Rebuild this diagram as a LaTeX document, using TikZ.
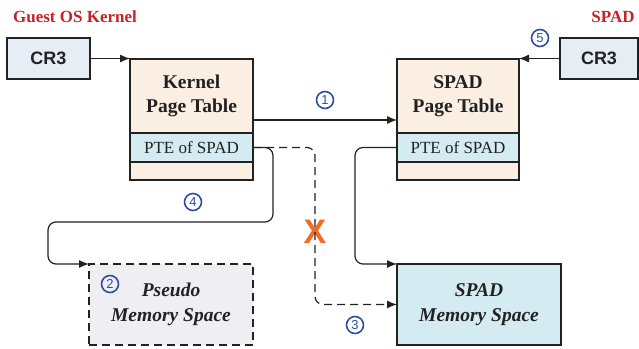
\documentclass[tikz,border=0pt]{standalone}
\usepackage{fontspec}
\setmainfont{Liberation Serif}
\setsansfont{Liberation Sans}
\usetikzlibrary{arrows.meta,calc,positioning}
\definecolor{ptfill}{HTML}{FBEEE3}
\definecolor{ptefill}{HTML}{D3EBF1}
\definecolor{regfill}{HTML}{E7EDF5}
\definecolor{pseudofill}{HTML}{EFEEF3}
\definecolor{lblred}{HTML}{C62228}
\definecolor{numblue}{HTML}{2E4FA8}
\definecolor{xorange}{HTML}{F26B21}
\definecolor{ink}{HTML}{222222}

\begin{document}
\begin{tikzpicture}[
    x=1pt, y=-1pt,
    >={Latex[length=10pt,width=8pt]},
    line width=1.2pt,
    oslabel/.style={
      text=lblred,
      font=\fontsize{17}{17}\selectfont\bfseries,
    },
    regbox/.style={
      draw=ink,
      fill=regfill,
      minimum width=83pt,
      minimum height=41pt,
      outer sep=0pt,
      text=ink,
      font=\sffamily\bfseries\fontsize{18}{18}\selectfont,
    },
    ptbox/.style={
      draw=ink,
      fill=ptfill,
      minimum width=123pt,
      outer sep=0pt,
      inner sep=0pt,
      align=center,
      text=ink,
      font=\bfseries\fontsize{19.5}{24}\selectfont,
    },
    ptebox/.style={
      ptbox,
      fill=ptefill,
      minimum height=29pt,
      font=\fontsize{17}{17}\selectfont,
    },
    membox/.style={
      draw=ink,
      fill=ptefill,
      minimum width=164pt,
      minimum height=81pt,
      outer sep=0pt,
      align=center,
      text=ink,
      font=\bfseries\itshape\fontsize{19.5}{25}\selectfont,
    },
    stepnum/.style={
      circle,
      draw=numblue,
      line width=1.6pt,
      text=numblue,
      minimum size=17pt,
      inner sep=0pt,
      font=\sffamily\fontsize{13}{13}\selectfont,
    },
    link/.style={->, draw=ink, rounded corners=8pt},
  ]
    \useasboundingbox (0,0) rectangle (639,348);

    % labels and CR3 registers
    \node[oslabel] (gosl) at (75,17) {Guest OS Kernel};
    \node[oslabel] (spadl) at (613,17) {SPAD};
    \node[regbox] (kcr3) at (48.5,58.5) {CR3};
    \node[regbox, minimum width=78pt] (scr3) at (599,58.5) {CR3};

    % page tables
    \node[ptbox, minimum height=74pt] (ktab) at (191.5,96) {Kernel\\Page Table};
    \node[ptebox, below=0pt of ktab] (kpte) {PTE of SPAD};
    \node[ptbox, minimum height=18pt, below=0pt of kpte] (kend) {};

    \node[ptbox, minimum width=122pt, minimum height=74pt] (stab) at (458,96) {SPAD\\Page Table};
    \node[ptebox, minimum width=122pt, below=0pt of stab] (spte) {PTE of SPAD};
    \node[ptbox, minimum width=122pt, minimum height=18pt, below=0pt of spte] (send) {};

    % memory spaces
    \node[membox, fill=pseudofill, dash pattern=on 8pt off 5pt] (pseudo) at (171,304.5) {Pseudo\\Memory Space};
    \node[membox] (smem) at (479,304.5) {SPAD\\Memory Space};

    \node[text=xorange, font=\sffamily\bfseries\fontsize{34}{34}\selectfont] (xmark) at (315,232) {X};

    % connectors
    \draw[link] (kcr3.east) -- (kcr3.east -| ktab.west);
    \draw[link] (scr3.west) -- (scr3.west -| stab.east);
    \draw[link] ([yshift=-24pt]ktab.east) -- ([yshift=-24pt]ktab.east -| stab.west);
    \draw[link] (kpte.east) -| (273,222) -| (48,264) -- (pseudo.north west);
    \draw[link, dash pattern=on 8pt off 5pt] (kpte.east) -| (315,304.5) -- (smem.west);
    \draw[link] (spte.west) -| (355,264) -- (smem.north west);

    % step numbers
    \node[stepnum] (n1) at (325,100) {1};
    \node[stepnum] (n2) at (110,284) {2};
    \node[stepnum] (n3) at (355,325) {3};
    \node[stepnum] (n4) at (193,202) {4};
    \node[stepnum] (n5) at (540,38) {5};
\end{tikzpicture}
\end{document}
